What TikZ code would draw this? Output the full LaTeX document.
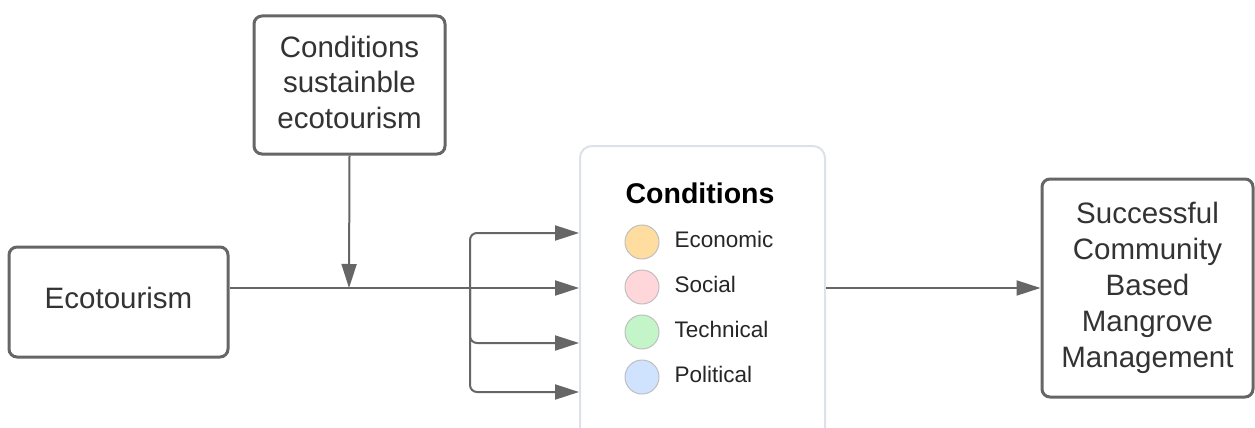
\documentclass[tikz,border=0pt]{standalone}
\usepackage{fontspec}
\setmainfont{Liberation Sans}
\usetikzlibrary{arrows.meta}
\definecolor{linegray}{HTML}{666666}
\definecolor{framegray}{HTML}{DDE2E8}
\definecolor{textgray}{HTML}{333333}
\tikzset{
  box/.style = {draw = linegray, line width = 3pt, rounded corners = 8pt, align = center,
    text = textgray, font = \fontsize{29.5}{36}\selectfont, inner sep = 0pt},
  link/.style = {draw = linegray, line width = 2pt},
  arr/.style = {link, -{Triangle[length = 24pt, width = 15pt]}},
  dot/.style = {circle, draw = black!25, line width = 1pt, minimum size = 34pt, inner sep = 0pt}
}
\begin{document}
\begin{tikzpicture}[x = 1pt, y = -1pt]
        \useasboundingbox (0, 0) rectangle (1255, 428);
        \fill[white] (0, 0) rectangle (1255, 428);

        \node[box, minimum width = 219pt, minimum height = 110pt] (eco) at (118.5, 302) {};
        \node[text = textgray, font = \fontsize{29.5}{36}\selectfont] (ecotxt) at (118.5, 298) {Ecotourism};
        \node[box, minimum width = 191pt, minimum height = 138pt] (sus) at (349.5, 85) {};
        \node[align = center, text = textgray, font = \fontsize{29.5}{35.5}\selectfont] (sustxt) at (349.5, 82)
          {Conditions\\sustainble\\ecotourism};
        \node[draw = framegray, line width = 2pt, rounded corners = 12pt, minimum width = 245pt,
          minimum height = 300pt] (cond) at (702.5, 296) {};
        \node[box, minimum width = 211pt, minimum height = 218pt] (cbmm) at (1147.5, 288)
          {Successful\\Community\\Based\\Mangrove\\Management};

        \node[font = \fontsize{28.5}{34}\selectfont\bfseries] (title) at (700, 193) {Conditions};
        \foreach \n/\y/\col/\t in {1/242/FFDDA0/Economic, 2/287/FFD6DA/Social, 3/332/C3F5C8/Technical, 4/377/CFE3FF/Political} {
          \definecolor{dotfill}{HTML}{\col}
          \node[dot, fill = dotfill] (dot\n) at (642, \y) {};
          \node[anchor = west, font = \fontsize{22.5}{26}\selectfont, text = black!85] (lab\n) at (671, \y - 3) {\t};
        }

        \coordinate (join) at (349, 288);
        \coordinate (fork) at (470, 288);
        \draw[link] (eco.east |- fork) -- (fork);
        \draw[arr] (sus.south) -- (join);
        \draw[arr] (fork) -- (cond.west |- fork);
        \foreach \y in {233, 343, 392}
          \draw[arr, rounded corners = 7pt] (fork) |- (cond.west |- 0, \y);
        \draw[arr] (cond.east |- fork) -- (cbmm.west);
      \end{tikzpicture}
\end{document}
